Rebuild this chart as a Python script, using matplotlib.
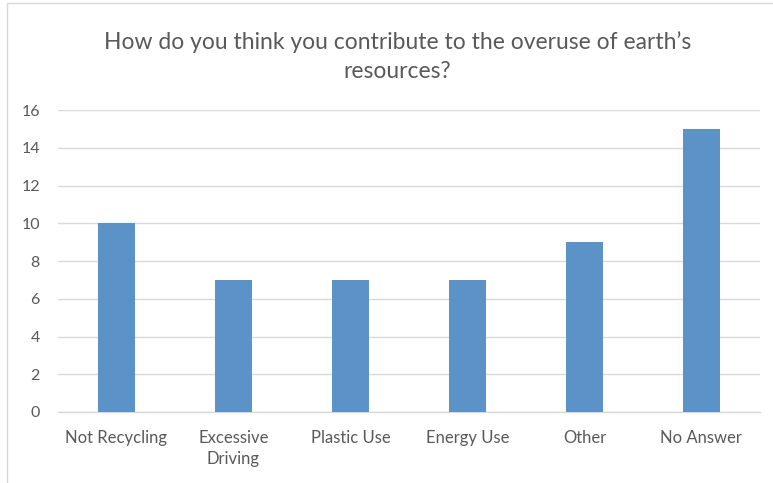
import numpy as np
import matplotlib.pyplot as plt
from matplotlib.patches import Rectangle

plt.rcParams['font.family'] = ['Lato', 'DejaVu Sans']

categories = ['Not Recycling', 'Excessive\nDriving', 'Plastic Use', 'Energy Use', 'Other', 'No Answer']
counts = [10, 7, 7, 7, 9, 15]
yticks = [0, 2, 4, 6, 8, 10, 12, 14, 16]

fig = plt.figure(figsize=(7.73, 4.83), dpi=100)
ax = fig.add_axes([0.075, 0.147, 0.908, 0.625])

x = np.arange(len(categories))
ax.bar(x, counts, width=0.31, color='#5B93C9', zorder=3)

ax.set_xlim(-0.5, len(categories) - 0.5)
ax.set_ylim(0, 16)
ax.set_yticks(yticks)
ax.set_xticks(x)
ax.set_xticklabels(categories, color='#595959', fontsize=12, linespacing=1.35)
ax.tick_params(axis='y', colors='#595959', labelsize=11.5, length=0, pad=13)
ax.tick_params(axis='x', length=0, pad=13)
ax.grid(axis='y', color='#D9D9D9', linewidth=1, zorder=0)
for s in ['top', 'right', 'left']:
    ax.spines[s].set_visible(False)
ax.spines['bottom'].set_color('#D9D9D9')
ax.spines['bottom'].set_linewidth(1)

fig.text(0.514, 0.883, "How do you think you contribute to the overuse of earth\u2019s\nresources?",
         ha='center', va='center', fontsize=16.5, color='#595959', linespacing=1.45)

# chart border
fig.patches.append(Rectangle((7 / 773, -0.05), 1.0, 1 - 3 / 483 + 0.05, transform=fig.transFigure,
                             fill=False, edgecolor='#D9D9D9', linewidth=1))

fig.savefig('out.png', dpi=100)
